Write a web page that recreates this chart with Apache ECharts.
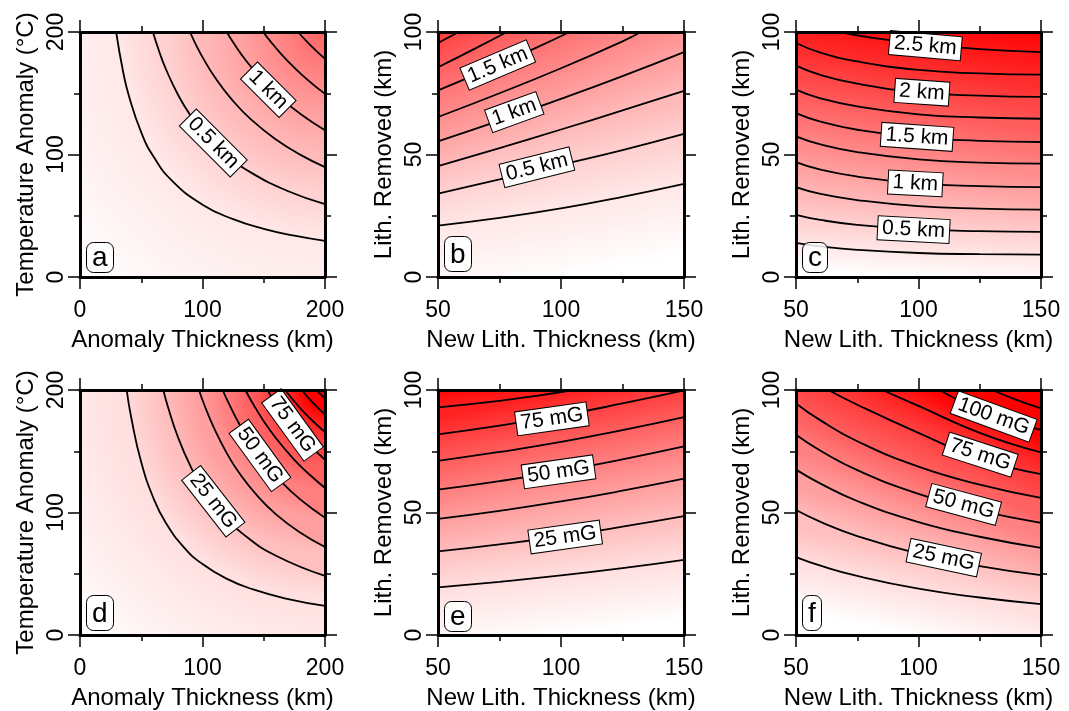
<!DOCTYPE html>
<html><head><meta charset="utf-8">
<script src="https://cdn.jsdelivr.net/npm/echarts@6/dist/echarts.min.js"></script>
<style>html,body{margin:0;padding:0;background:#fff}#c{width:1069px;height:711px}</style>
</head><body><div id="c"></div><script>
// ---------------- DATA ----------------
// Panel a: uplift (km) vs anomaly thickness (x) and temperature anomaly (y)
const levelsA = [0.25, 0.5, 0.75, 1.0, 1.25, 1.5];
const contoursA = [
  [[29.5,200],[35,168.6],[40,147.5],[50,118],[60,98.3],[75,78.7],[100,59],[125,47.2],[150,39.3],[175,33.7],[200,29.5]],
  [[59.5,200],[65,183.1],[70,170],[80,148.8],[90,132.2],[100,119],[120,99.2],[140,85],[170,70],[200,59.5]],
  [[89.75,200],[95,188.9],[100,179.5],[110,163.2],[125,143.6],[140,128.2],[160,112.2],[180,99.7],[200,89.75]],
  [[119.75,200],[125,191.6],[135,177.4],[150,159.7],[165,145.2],[180,133.1],[200,119.75]],
  [[149.5,200],[155,192.9],[165,181.2],[175,170.9],[187.5,159.5],[200,149.5]],
  [[178,200],[185,192.4],[192,185.4],[200,178]]
];
const labelPosA = [[108.8,109.4],[153.7,152.9]];
const labelTextA = ['0.5 km','1 km'];

// Panel b: uplift (km) vs new lith. thickness (x) and lith. removed (y)
const levelsB = [0.25, 0.5, 0.75, 1.0, 1.25, 1.5, 1.75, 2.0];
const contoursB = [
  [[50,21],[75,24.1],[100,28],[125,32.7],[150,38]],
  [[50,34],[75,39.8],[100,45.8],[125,51.8],[150,58.4]],
  [[50,45.3],[75,52.6],[100,60.2],[125,68],[150,76]],
  [[50,55.4],[75,63.8],[100,72.7],[125,82],[150,91.8]],
  [[50,65.3],[75,75],[100,85.2],[125,96.2],[132.5,100]],
  [[50,76.2],[75,86.8],[90,93.6],[103.5,100]],
  [[50,85.6],[65,93.2],[78,100]],
  [[50,95.5],[58.4,100]]
];
const labelPosB = [[90.2,44.8],[81,67.3],[74.3,86.5]];
const labelTextB = ['0.5 km','1 km','1.5 km'];

// Panel c
const levelsC = [0.25, 0.5, 0.75, 1.0, 1.25, 1.5, 1.75, 2.0, 2.25, 2.5];
const contoursC = [
  [[50,13.9],[60,12.5],[75,11.1],[100,9.8],[125,9.3],[150,9.1]],
  [[50,25.4],[60,23.3],[75,21.3],[100,19.5],[125,18.7],[150,18.4]],
  [[50,36.7],[60,33.9],[75,31.4],[100,28.9],[125,27.9],[150,27.5]],
  [[50,46.9],[60,43.8],[75,41.0],[100,38.2],[125,37.1],[150,36.7]],
  [[50,57.4],[60,54.1],[75,51.0],[100,48.0],[125,46.7],[150,46.3]],
  [[50,66.9],[60,63.4],[75,60.1],[100,56.9],[125,55.6],[150,55.1]],
  [[50,76.5],[60,72.9],[75,69.6],[100,66.4],[125,65.1],[150,64.6]],
  [[50,86.3],[60,82.5],[75,78.9],[100,75.4],[125,74.0],[150,73.5]],
  [[50,95.5],[60,91.6],[75,88.0],[100,84.5],[125,83.1],[150,82.6]],
  [[68,100],[80,97.8],[100,95.3],[125,93],[150,91.8]]
];
const labelPosC = [[102.8,94.4],[101.4,75.4],[99.4,57.2],[98.7,38.2],[98,19.3]];
const labelTextC = ['2.5 km','2 km','1.5 km','1 km','0.5 km'];

// Panel d: gravity (mG)
const levelsD = [12.5, 25, 37.5, 50, 62.5, 75, 87.5, 100, 112.5];
const contoursD = [
  [[38.1,200],[42,176.5],[50,141],[60,111.6],[70,91.6],[85,71.4],[100,57.9],[120,45.8],[140,37.6],[170,29.3],[200,23.8]],
  [[68,200],[72,185.5],[80,161.4],[90,138.2],[100,120.3],[115,100],[135,80.9],[160,64.7],[200,48.2]],
  [[97.1,200],[102,186.5],[110,167.6],[120,148.1],[130,132.2],[145,113.3],[160,98.5],[180,83.4],[200,71.8]],
  [[116.5,200],[120,192.1],[130,172.2],[140,155.7],[150,141.7],[165,124.4],[180,110.5],[200,95.7]],
  [[135,200],[140,190.8],[150,174.5],[160,160.6],[175,143],[187.5,130.8],[200,120]],
  [[153,200],[160,189.1],[170,175.3],[185,157.6],[200,143]],
  [[167.3,200],[180,184.9],[190,174.7],[200,165.6]],
  [[181,200],[190,189.6],[200,180]],
  [[193,200],[200,193]]
];
const labelPosD = [[108.8,109.2],[146.9,146.6],[173.5,171.5]];
const labelTextD = ['25 mG','50 mG','75 mG'];

// Panel e
const levelsE = [12.5, 25, 37.5, 50, 62.5, 75, 87.5];
const contoursE = [
  [[50,19.4],[75,21.7],[100,24.3],[125,27.3],[150,30.7]],
  [[50,34.1],[75,37.0],[100,40.3],[125,44.2],[150,48.5]],
  [[50,47.4],[75,50.7],[100,54.5],[125,58.9],[150,63.8]],
  [[50,59.3],[75,62.8],[100,66.9],[125,71.7],[150,77.0]],
  [[50,71.1],[75,74.7],[100,78.8],[125,83.6],[150,88.9]],
  [[50,81.9],[75,85.5],[100,89.6],[125,94.5],[150,99.8]],
  [[50,92.9],[75,95.6],[90,97.6],[105,100]]
];
const labelPosE = [[101.7,40.0],[99,66.6],[96.3,88.2]];
const labelTextE = ['25 mG','50 mG','75 mG'];

// Panel f
const levelsF = [12.5, 25, 37.5, 50, 62.5, 75, 87.5, 100, 112.5];
const contoursF = [
  [[50,31.8],[60,28.3],[75,24.1],[100,18.9],[125,15.3],[150,12.6]],
  [[50,51],[60,46.2],[75,40.4],[100,33.2],[125,28.1],[150,24.4]],
  [[50,67.5],[60,61.8],[75,54.7],[100,46.1],[125,40.1],[150,35.6]],
  [[50,81.7],[60,75.2],[75,67.3],[100,57.6],[125,50.8],[150,45.8]],
  [[50,94.5],[60,87.6],[75,79.1],[100,68.7],[125,61.4],[150,56]],
  [[63.2,100],[75,94],[100,82.5],[125,72],[150,65.7]],
  [[85.2,100],[100,93.5],[125,82.5],[150,74.5]],
  [[108.4,100],[120,94],[131,89],[150,83.7]],
  [[130,100],[140,96],[150,92.5]]
];
const labelPosF = [[110.3,31.6],[118.4,53.3],[125.2,73.6],[130.7,89.2]];
const labelTextF = ['25 mG','50 mG','75 mG','100 mG'];

// Axis ranges / tick steps
const xRangeA = [0, 200, 100], yRangeA = [0, 200, 100];
const xRangeB = [50, 150, 50], yRangeB = [0, 100, 50];
const xNameA = 'Anomaly Thickness (km)';
const yNameA = 'Temperature Anomaly (°C)';
const xNameB = 'New Lith. Thickness (km)';
const yNameB = 'Lith. Removed (km)';
const panelLetters = ['a','b','c','d','e','f'];

// ---------------- LAYOUT / STYLE ----------------
const FONT = '"Liberation Sans", Arial, Helvetica, sans-serif';
const panels = [
  {lv:levelsA, cs:contoursA, lp:labelPosA, lt:labelTextA, rot:[-45,-45], vmax:2.75, radial:true, xr:xRangeA, yr:yRangeA, xn:xNameA, yn:yNameA, g:{left:80, top:32, width:245, height:245}},
  {lv:levelsB, cs:contoursB, lp:labelPosB, lt:labelTextB, rot:[14,20,23], vmax:2.75, xr:xRangeB, yr:yRangeB, xn:xNameB, yn:yNameB, g:{left:438, top:32, width:246, height:245}},
  {lv:levelsC, cs:contoursC, lp:labelPosC, lt:labelTextC, rot:[-5,-4,-4,-3,-3], vmax:2.75, xr:xRangeB, yr:yRangeB, xn:xNameB, yn:yNameB, g:{left:796, top:32, width:245, height:245}},
  {lv:levelsD, cs:contoursD, lp:labelPosD, lt:labelTextD, rot:[-52,-54,-54], vmax:100, radial:true, xr:xRangeA, yr:yRangeA, xn:xNameA, yn:yNameA, g:{left:80, top:390, width:245, height:246}},
  {lv:levelsE, cs:contoursE, lp:labelPosE, lt:labelTextE, rot:[8,8,8], vmax:100, xr:xRangeB, yr:yRangeB, xn:xNameB, yn:yNameB, g:{left:438, top:390, width:246, height:246}},
  {lv:levelsF, cs:contoursF, lp:labelPosF, lt:labelTextF, rot:[-12,-15,-18,-20], vmax:100, xr:xRangeB, yr:yRangeB, xn:xNameB, yn:yNameB, g:{left:796, top:390, width:245, height:246}}
];

function shade(v, vmax) {
  const t = Math.max(0, Math.min(v / vmax, 1));
  const g = Math.round(255 * (1 - t));
  return 'rgb(255,' + g + ',' + g + ')';
}

const grids = [], xAxes = [], yAxes = [], series = [], titles = [];
const tickLine = {color:'#000', width:1.5};
const frame = {color:'#000', width:3};
const fillRefs = [];
const SMOOTH = 0.5;

panels.forEach((p, i) => {
  grids.push(Object.assign({show:false}, p.g));
  const baseX = {type:'value', gridIndex:i, min:p.xr[0], max:p.xr[1], interval:p.xr[2], z:10,
    splitLine:{show:false}, minorSplitLine:{show:false},
    axisLine:{show:true, onZero:false, lineStyle:frame},
    axisTick:{show:true, inside:false, length:12, lineStyle:tickLine},
    minorTick:{show:true, splitNumber:2, length:6, lineStyle:tickLine}};
  const baseY = {type:'value', gridIndex:i, min:p.yr[0], max:p.yr[1], interval:p.yr[2], z:10,
    splitLine:{show:false}, minorSplitLine:{show:false},
    axisLine:{show:true, onZero:false, lineStyle:frame},
    axisTick:{show:true, inside:false, length:12, lineStyle:tickLine},
    minorTick:{show:true, splitNumber:2, length:6, lineStyle:tickLine}};
  xAxes.push(Object.assign({}, baseX, {position:'bottom',
    axisLabel:{show:true, fontSize:23, color:'#000', fontFamily:FONT, margin:22},
    name:p.xn, nameLocation:'middle', nameGap:51, nameTextStyle:{fontSize:24, color:'#000', fontFamily:FONT}}));
  xAxes.push(Object.assign({}, baseX, {position:'top', axisLabel:{show:false}}));
  yAxes.push(Object.assign({}, baseY, {position:'left',
    axisLabel:{show:true, rotate:90, fontSize:23, color:'#000', fontFamily:FONT, margin:12},
    name:p.yn, nameLocation:'middle', nameGap:42, nameTextStyle:{fontSize:24, color:'#000', fontFamily:FONT}}));
  yAxes.push(Object.assign({}, baseY, {position:'right', axisLabel:{show:false}}));

  const xi = 2 * i, yi = 2 * i;
  const step = p.lv[1] - p.lv[0];
  const ref = {bg:null, bands:[]};
  ref.bg = {type:'line', xAxisIndex:xi, yAxisIndex:yi, data:[[p.xr[0], p.yr[0]], [p.xr[1], p.yr[0]]],
    symbol:'none', silent:true, z:1, lineStyle:{width:0, opacity:0},
    areaStyle:{origin:'end', opacity:1, color: shade(p.lv[0] * 0.45, p.vmax)}};
  series.push(ref.bg);
  p.cs.forEach((c, k) => {
    const s = {type:'line', xAxisIndex:xi, yAxisIndex:yi, data:c, smooth:SMOOTH,
      symbol:'none', silent:true, z:1, lineStyle:{width:0, opacity:0},
      areaStyle:{origin:'end', opacity:1, color: shade(p.lv[k] + step / 2, p.vmax)}};
    ref.bands.push(s);
    series.push(s);
  });
  fillRefs.push(ref);
  p.cs.forEach((c) => {
    series.push({type:'line', xAxisIndex:xi, yAxisIndex:yi, data:c, smooth:SMOOTH,
      symbol:'none', silent:true, z:3, lineStyle:{width:1.8, color:'#000'}});
  });
  series.push({type:'scatter', xAxisIndex:xi, yAxisIndex:yi, symbolSize:0, silent:true, z:5,
    itemStyle:{opacity:1},
    data: p.lp.map((pt, j) => ({value:pt, name:p.lt[j],
      label:{show:true, position:'inside', rotate:p.rot[j], formatter:p.lt[j], opacity:1,
        fontSize:21, fontFamily:FONT, color:'#000', textBorderWidth:0, textBorderColor:'transparent',
        backgroundColor:'#fff', borderColor:'#000', borderWidth:1, padding:[2,4,0,4], lineHeight:21}}))});
  const tall = ['b','d','f'].indexOf(panelLetters[i]) >= 0;
  titles.push({text:panelLetters[i], left:p.g.left + 6, top: p.g.top + p.g.height - (tall ? 41 : 35),
    padding: tall ? [4,6,2,6] : [1,6,0,6], borderColor:'#000', borderWidth:1, borderRadius:7,
    backgroundColor:'rgba(255,255,255,0.85)',
    textStyle:{fontSize:28, fontWeight:'normal', color:'#000', fontFamily:FONT, lineHeight:30}});
});

const option = {animation:false, backgroundColor:'#fff', title:titles, grid:grids, xAxis:xAxes, yAxis:yAxes, series:series};
const chart = echarts.init(document.getElementById('c'), null, {renderer:'canvas'});
chart.setOption(option);

// ------------- smooth colour shading inside each band (style only) -------------
function segs(poly) { const out = []; for (let j = 0; j < poly.length - 1; j++) out.push([poly[j], poly[j+1]]); return out; }
function meanDist(poly, C) {
  let tot = 0, acc = 0;
  segs(poly).forEach(([A, B]) => { const L = Math.hypot(B[0]-A[0], B[1]-A[1]);
    acc += L * Math.hypot((A[0]+B[0])/2 - C[0], (A[1]+B[1])/2 - C[1]); tot += L; });
  return tot ? acc / tot : Math.hypot(poly[0][0]-C[0], poly[0][1]-C[1]);
}
function midNormal(poly) {
  const ss = segs(poly), lens = ss.map(([A, B]) => Math.hypot(B[0]-A[0], B[1]-A[1]));
  let half = lens.reduce((a, b) => a + b, 0) / 2, j = 0;
  while (j < lens.length - 1 && half > lens[j]) { half -= lens[j]; j++; }
  const [A, B] = ss[j], f = half / lens[j];
  const P = [A[0] + (B[0]-A[0]) * f, A[1] + (B[1]-A[1]) * f];
  const tx = (B[0]-A[0]) / lens[j], ty = (B[1]-A[1]) / lens[j];
  let n = [ty, -tx]; if (n[1] > 0) n = [-n[0], -n[1]];
  return {P, n};
}
function rayHit(P, d, poly) {
  let best = null;
  segs(poly).forEach(([A, B]) => {
    const e = [B[0]-A[0], B[1]-A[1]], den = d[0]*e[1] - d[1]*e[0];
    if (Math.abs(den) < 1e-9) return;
    const w = [A[0]-P[0], A[1]-P[1]];
    const t = (w[0]*e[1] - w[1]*e[0]) / den, s = (w[0]*d[1] - w[1]*d[0]) / den;
    if (s >= 0 && s <= 1 && t > 0 && (best === null || t < best)) best = t;
  });
  return best;
}
function minDist(P, poly) {
  let best = Infinity;
  poly.forEach(Q => { best = Math.min(best, Math.hypot(Q[0]-P[0], Q[1]-P[1])); });
  return best;
}

panels.forEach((p, i) => {
  const pix = pt => chart.convertToPixel({gridIndex:i}, pt);
  const polys = p.cs.map(c => c.map(pix));
  const step = p.lv[1] - p.lv[0];
  const col = v => shade(v, p.vmax);
  const ref = fillRefs[i];
  if (p.radial) {
    const C = pix([p.xr[1], p.yr[1]]);
    const O = pix([p.xr[0], p.yr[0]]);
    const R0 = Math.hypot(O[0]-C[0], O[1]-C[1]);
    const rs = polys.map(poly => meanDist(poly, C));
    ref.bg.areaStyle.color = {type:'radial', global:true, x:C[0], y:C[1], r:R0,
      colorStops:[{offset:rs[0]/R0, color:col(p.lv[0])}, {offset:1, color:col(0)}]};
    ref.bands.forEach((s, k) => {
      const rk = rs[k];
      let stops;
      if (k + 1 < rs.length) stops = [{offset:rs[k+1]/rk, color:col(p.lv[k+1])}, {offset:1, color:col(p.lv[k])}];
      else { const sp = rs[k-1] - rk; stops = [{offset:0, color:col(p.lv[k] + step * rk / sp)}, {offset:1, color:col(p.lv[k])}]; }
      s.areaStyle.color = {type:'radial', global:true, x:C[0], y:C[1], r:rk, colorStops:stops};
    });
  } else {
    const info = polys.map(midNormal);
    const bottomY = pix([p.xr[0], p.yr[0]])[1];
    let lastT = 20;
    ref.bands.forEach((s, k) => {
      const {P, n} = info[k];
      let t, top;
      if (k + 1 < polys.length) { t = rayHit(P, n, polys[k+1]) || minDist(P, polys[k+1]); top = p.lv[k+1]; }
      else { t = lastT; top = p.lv[k] + step; }
      lastT = t;
      s.areaStyle.color = {type:'linear', global:true, x:P[0], y:P[1], x2:P[0] + n[0]*t, y2:P[1] + n[1]*t,
        colorStops:[{offset:0, color:col(p.lv[k])}, {offset:1, color:col(top)}]};
    });
    const {P, n} = info[0];
    const t0 = (bottomY - P[1]) / (-n[1]);
    ref.bg.areaStyle.color = {type:'linear', global:true, x:P[0] - n[0]*t0, y:P[1] - n[1]*t0, x2:P[0], y2:P[1],
      colorStops:[{offset:0, color:col(0)}, {offset:1, color:col(p.lv[0])}]};
  }
});
chart.setOption(option, true);
</script></body></html>
